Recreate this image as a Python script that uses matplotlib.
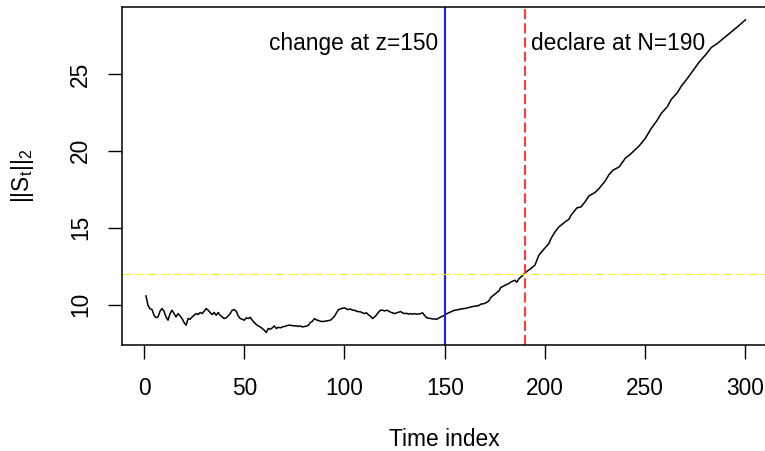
import matplotlib
matplotlib.use("Agg")
import matplotlib.pyplot as plt
import numpy as np

# ---- data ----
time_index = [1, 2, 3, 4, 5, 6, 7, 8, 9, 10, 11, 12, 13, 14, 15, 16, 17, 18, 19, 20,
              21, 22, 23, 24, 25, 26, 27, 28, 29, 30, 31, 32, 33, 34, 35, 36, 37, 38, 39, 40,
              41, 42, 43, 44, 45, 46, 47, 48, 49, 50, 51, 52, 53, 54, 55, 56, 57, 58, 59, 60,
              61, 62, 63, 64, 65, 66, 67, 68, 69, 70, 71, 72, 73, 74, 75, 76, 77, 78, 79, 80,
              81, 82, 83, 84, 85, 86, 87, 88, 89, 91, 93, 94, 95, 96, 97, 98, 99, 100,
              101, 102, 103, 104, 105, 106, 107, 108, 109, 110, 111, 112, 113, 114, 115, 116, 117, 118, 119, 120,
              121, 122, 123, 124, 125, 126, 127, 128, 129, 130, 131, 132, 133, 134, 135, 136, 137, 138, 139, 140,
              141, 142, 143, 144, 145, 146, 147, 148, 149, 150, 151, 152, 154, 155, 157, 158, 160,
              162, 163, 165, 167, 168, 170, 172, 173, 175, 177, 178, 180, 182, 183, 185, 186, 187, 189, 190,
              192, 193, 195, 197, 199, 202, 203, 205, 207, 210, 212, 213, 216, 218, 220,
              222, 225, 227, 230, 232, 234, 237, 240, 243, 247, 250, 253, 256, 258, 261, 263, 266, 268,
              271, 274, 277, 280, 283, 286, 289, 292, 296, 300]
norm_S = [10.56, 9.95, 9.72, 9.68, 9.30, 9.15, 9.19, 9.56, 9.74, 9.56, 9.19, 8.98, 9.41, 9.63, 9.41, 9.19, 9.41, 9.26, 9.09, 8.83,
          8.65, 9.09, 9.04, 9.19, 9.30, 9.41, 9.35, 9.48, 9.41, 9.56, 9.74, 9.63, 9.48, 9.35, 9.48, 9.30, 9.48, 9.30, 9.19, 9.09,
          9.13, 9.26, 9.41, 9.63, 9.67, 9.56, 9.26, 9.09, 9.04, 8.98, 9.13, 9.09, 9.17, 8.98, 8.83, 8.70, 8.61, 8.54, 8.44, 8.33,
          8.18, 8.44, 8.39, 8.48, 8.61, 8.44, 8.52, 8.48, 8.54, 8.57, 8.61, 8.65, 8.65, 8.63, 8.61, 8.61, 8.57, 8.61, 8.54, 8.57,
          8.59, 8.65, 8.83, 8.91, 9.09, 9.00, 8.96, 8.91, 8.89, 8.93, 8.98, 9.09, 9.24, 9.46, 9.67, 9.71, 9.76, 9.78,
          9.71, 9.67, 9.71, 9.63, 9.63, 9.56, 9.54, 9.52, 9.46, 9.41, 9.46, 9.33, 9.24, 9.09, 9.19, 9.33, 9.50, 9.63, 9.63, 9.58,
          9.63, 9.58, 9.50, 9.46, 9.41, 9.46, 9.50, 9.54, 9.46, 9.41, 9.43, 9.37, 9.41, 9.37, 9.41, 9.37, 9.39, 9.41, 9.46, 9.28,
          9.15, 9.11, 9.09, 9.06, 9.06, 9.04, 9.11, 9.19, 9.24, 9.30, 9.40, 9.46, 9.58, 9.63, 9.67, 9.71, 9.74,
          9.80, 9.84, 9.89, 9.93, 10.02, 10.07, 10.23, 10.46, 10.67, 10.88, 11.11, 11.24, 11.37, 11.47, 11.58, 11.45, 11.67, 11.91, 12.05,
          12.25, 12.34, 12.56, 13.21, 13.53, 13.97, 14.29, 14.72, 15.05, 15.37, 15.55, 15.81, 16.29, 16.35, 16.68,
          17.07, 17.29, 17.55, 18.02, 18.46, 18.74, 18.95, 19.50, 19.82, 20.32, 20.80, 21.45, 21.99, 22.43, 22.86, 23.34, 23.77, 24.20,
          24.70, 25.24, 25.78, 26.22, 26.72, 26.98, 27.31, 27.63, 28.06, 28.52]

change_point = 150
declare_point = 190
threshold = 12.0
x_ticks = [0, 50, 100, 150, 200, 250, 300]
y_ticks = [10, 15, 20, 25]
change_label = "change at z=150"
declare_label = "declare at N=190"
x_label = "Time index"
y_label = r"$\mathregular{||S_t||_2}$"

# ---- style ----
plt.rcParams['font.family'] = ['Liberation Sans', 'DejaVu Sans']
plt.rcParams['mathtext.fontset'] = 'custom'
plt.rcParams['mathtext.rm'] = 'Liberation Sans'
plt.rcParams['mathtext.it'] = 'Liberation Sans'
FS = 16.4

W, H = 765, 451
fig = plt.figure(figsize=(W / 100, H / 100), dpi=100)
ax_left, ax_top, ax_w, ax_h = 122, 7.3, 647.4, 337.7
ax = fig.add_axes([ax_left / W, 1 - (ax_top + ax_h) / H, ax_w / W, ax_h / H])

ax.plot(time_index, norm_S, color='black', lw=1.1, solid_joinstyle='round')
ax.axvline(change_point, color='#1a1aff', lw=1.5)
ax.axvline(declare_point, color='#ff3b3b', lw=1.5, linestyle=(0, (4.8, 2.0)))
ax.axhline(threshold, color='#ffff00', lw=0.8, linestyle=(0, (7.5, 4.0)))

# R-style 4% padding
n0, n1 = 1, 300
xpad = 0.04 * (n1 - n0)
ax.set_xlim(n0 - xpad, n1 + xpad)
ymin, ymax = min(norm_S), max(norm_S)
ypad = 0.04 * (ymax - ymin)
ax.set_ylim(ymin - ypad, ymax + ypad)

ax.set_xticks(x_ticks)
ax.set_yticks(y_ticks)
ax.tick_params(axis='both', direction='out', length=10.4, width=1.0, labelsize=FS, color='black')
ax.tick_params(axis='x', pad=12.5)
ax.tick_params(axis='y', pad=11, labelrotation=90)
for lab in ax.get_yticklabels():
    lab.set_va('center')
for s in ax.spines.values():
    s.set_linewidth(1.1)

ax.annotate(change_label, xy=(change_point, 27), xytext=(-4.5, 0), textcoords='offset points',
            ha='right', va='center', fontsize=FS)
ax.annotate(declare_label, xy=(declare_point, 27), xytext=(4.5, 0), textcoords='offset points',
            ha='left', va='center', fontsize=FS)

fig.text((ax_left + ax_w / 2 - 1) / W, 1 - 445.5 / H, x_label, ha='center', va='baseline', fontsize=FS)
fig.text(23 / W, 1 - 176 / H, y_label, ha='center', va='center', rotation=90, fontsize=FS)

fig.savefig('out.png', dpi=100)
